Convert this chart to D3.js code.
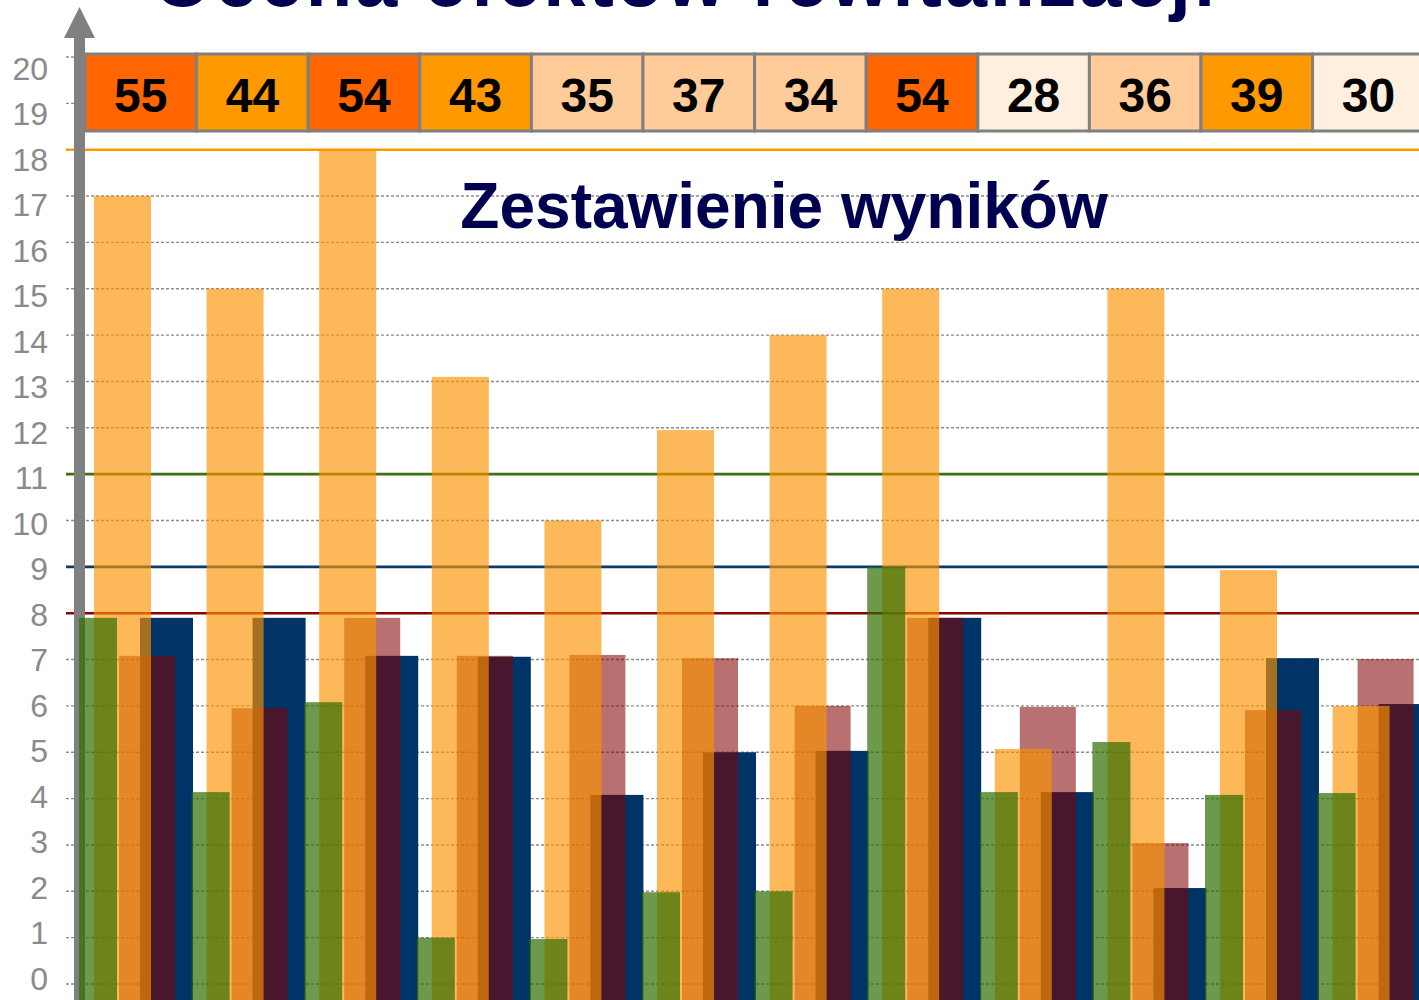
<!DOCTYPE html>
<html>
<head>
<meta charset="utf-8">
<script src="https://cdn.jsdelivr.net/npm/d3@7"></script>
<style>
  body { margin: 0; background: #fff; }
  svg { display: block; font-family: 'Liberation Sans', Arial, sans-serif; }
</style>
</head>
<body>
<div id="vis"></div>
<script>
const width = 1419;
const height = 1000;

// data
const groups = d3.range(12);
const scores = [55, 44, 54, 43, 35, 37, 34, 54, 28, 36, 39, 30];
const orangeValues = [17, 15, 18, 13.1, 10, 11.95, 14, 15, 5.07, 15, 8.93, 6];
const greenValues = [7.9, 4.14, 6.08, 1.0, 0.97, 1.98, 2.0, 9.0, 4.14, 5.22, 4.08, 4.12];
const maroonValues = [7.08, 5.95, 7.9, 7.08, 7.1, 7.03, 6.0, 7.9, 5.98, 3.04, 5.91, 7.01];
const navyValues = [7.9, 7.9, 7.08, 7.06, 4.08, 5.0, 5.03, 7.9, 4.14, 2.07, 7.03, 6.04];
const refLevels = [18, 11, 9, 8];
const yTicks = d3.range(0, 21);
const title = 'Ocena efektów rewitalizacji';
const subtitle = 'Zestawienie wyników';

// drawing order: navy, maroon, light orange, green
const series = [
  { values: navyValues, color: '#003366', opacity: 1, dx: 61, w: 53 },
  { values: maroonValues, color: '#800000', opacity: 0.56, dx: 40, w: 56 },
  { values: orangeValues, color: '#fc9400', opacity: 0.65, dx: 15, w: 57 },
  { values: greenValues, color: '#2f6e00', opacity: 0.7, dx: 0, w: 38 }
];
const refColors = ['#ff9900', '#3f6f0f', '#0b3a6e', '#8b0000'];

const $svg = d3.select('#vis').append('svg')
  .attr('width', width)
  .attr('height', height);

// scales
const y = d3.scaleLinear().domain([0, 20]).range([984, 57]);
const yLabel = d3.scaleLinear().domain([0, 20]).range([978, 68]);
const boxX = d3.scaleBand().domain(groups).range([85, 85 + 12 * 111.6]);
const barX = d3.scaleBand().domain(groups).range([79, 79 + 12 * 112.6]);
const scoreColour = d3.scaleThreshold()
  .domain([31, 39, 45])
  .range(['#ffefdf', '#ffcc99', '#ff9900', '#ff6600']);

// dashed grid
$svg.append('g').attr('class', 'grid')
  .selectAll('line')
  .data(yTicks)
  .join('line')
  .attr('x1', 66)
  .attr('x2', width)
  .attr('y1', d => y(d))
  .attr('y2', d => y(d))
  .attr('stroke', '#8c8c8c')
  .attr('stroke-width', 1.4)
  .attr('stroke-dasharray', '3,2');

// threshold lines
$svg.append('g').attr('class', 'refs')
  .selectAll('line')
  .data(refLevels)
  .join('line')
  .attr('x1', 66)
  .attr('x2', width)
  .attr('y1', d => y(d))
  .attr('y2', d => y(d))
  .attr('stroke', (d, i) => refColors[i])
  .attr('stroke-width', 2.6);

// y axis labels
const yAxis = d3.axisLeft(yLabel).tickValues(yTicks).tickSize(0).tickPadding(0);
$svg.append('g')
  .attr('class', 'axis y')
  .attr('transform', 'translate(48,1)')
  .call(yAxis)
  .call(g => g.select('.domain').remove())
  .call(g => g.selectAll('text')
    .attr('fill', '#8a8a8a')
    .attr('font-size', 32)
    .attr('font-family', "'Liberation Sans', Arial, sans-serif"));

// grey arrow
$svg.append('rect')
  .attr('x', 74).attr('y', 36)
  .attr('width', 11).attr('height', height - 36)
  .attr('fill', '#808080');
$svg.append('path')
  .attr('d', 'M79.5,7L95,38L64,38Z')
  .attr('fill', '#808080');

// bars
series.forEach((s, k) => {
  $svg.append('g').attr('class', `bars s${k}`)
    .selectAll('rect')
    .data(s.values)
    .join('rect')
    .attr('x', (d, i) => barX(i) + s.dx)
    .attr('y', d => y(d))
    .attr('width', s.w)
    .attr('height', d => height - y(d))
    .attr('fill', s.color)
    .attr('fill-opacity', s.opacity);
});

// score boxes
const $boxes = $svg.append('g').attr('class', 'scores')
  .selectAll('g')
  .data(scores)
  .join('g')
  .attr('transform', (d, i) => `translate(${boxX(i)},54)`);

$boxes.append('rect')
  .attr('width', boxX.bandwidth())
  .attr('height', 77)
  .attr('fill', d => scoreColour(d))
  .attr('stroke', '#808080')
  .attr('stroke-width', 3);

$boxes.append('text')
  .attr('x', boxX.bandwidth() / 2)
  .attr('y', 58)
  .attr('text-anchor', 'middle')
  .attr('font-size', 48)
  .attr('font-weight', 700)
  .attr('fill', '#000')
  .text(d => d);

// titles (main title sits partly above the frame, as in the source slide)
$svg.append('text')
  .attr('x', 684)
  .attr('y', 6)
  .attr('text-anchor', 'middle')
  .attr('font-size', 76)
  .attr('font-weight', 700)
  .attr('fill', '#000050')
  .attr('textLength', 1062)
  .attr('lengthAdjust', 'spacing')
  .text(title);

$svg.append('text')
  .attr('x', 784)
  .attr('y', 228)
  .attr('text-anchor', 'middle')
  .attr('font-size', 64)
  .attr('font-weight', 700)
  .attr('fill', '#000050')
  .text(subtitle);
</script>
</body>
</html>
